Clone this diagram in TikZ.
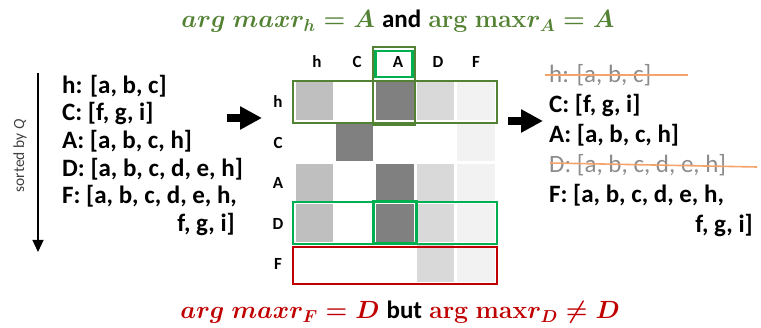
\documentclass[tikz,border=0pt]{standalone}
\usepackage{fontspec}
\newfontfamily\carl{Carlito}
\usetikzlibrary{arrows.meta}
\definecolor{dgreen}{HTML}{548235}
\definecolor{bgreen}{HTML}{00B050}
\definecolor{dred}{HTML}{C00000}
\definecolor{strikec}{HTML}{F4A46A}
\definecolor{txtgray}{HTML}{8C8C8C}
\definecolor{lblgray}{HTML}{404040}
\definecolor{ga}{HTML}{BFBFBF}
\definecolor{gb}{HTML}{808080}
\definecolor{gc}{HTML}{D9D9D9}
\definecolor{gd}{HTML}{F2F2F2}
\newcommand{\hcell}[3]{\fill[#3] ({294+40.4*#1+1.5},{81+40.6*#2+1.5}) rectangle ({294+40.4*(#1+1)-1.5},{81+40.6*(#2+1)-1.5});}
\begin{document}
\begin{tikzpicture}[x=1pt,y=-1pt,
  lst/.style={font={\carl\bfseries\fontsize{25}{30}\selectfont}, inner sep=0pt},
  lstgray/.style={font={\carl\fontsize{25}{30}\selectfont}, text=txtgray, inner sep=0pt},
  hdr/.style={font={\carl\bfseries\fontsize{17}{19}\selectfont}, inner sep=0pt},
  ttl/.style={font={\fontsize{23.5}{28}\selectfont}, inner sep=0pt},
  box/.style={line width=2.2pt},
  blockarrow/.style={line width=8pt, -{Triangle[length=22pt,width=22pt]}},
  strikeline/.style={strikec, line width=1.6pt}]
\useasboundingbox (0,0) rectangle (761,328);

% titles
\node[ttl, anchor=base] (top) at (398,28) {\textcolor{dgreen}{\boldmath$arg\ max r_h = A$} {\carl\bfseries\fontsize{25}{28}\selectfont and} \textcolor{dgreen}{\boldmath$\mathbf{arg\ max} r_A = A$}};
\node[ttl, anchor=base] (bot) at (400,319) {\textcolor{dred}{\boldmath$arg\ max r_F = D$} {\carl\bfseries\fontsize{25}{28}\selectfont but} \textcolor{dred}{\boldmath$\mathbf{arg\ max} r_D \neq D$}};

% sorted by Q arrow
\coordinate (qs) at (38,73);
\coordinate (qe) at (38,252);
\draw[line width=1.2pt, -{Triangle[length=12pt,width=11pt]}] (qs) -- (qe);
\node[rotate=90, font={\carl\fontsize{15.5}{17}\selectfont}, text=lblgray, inner sep=0pt] (qlbl) at (20,156) {sorted by {\itshape Q}};

% left list
\node[lst, anchor=base west] (l1) at (62,93.5) {h: [a, b, c]};
\node[lst, anchor=base west] (l2) at (62,121) {C: [f, g, i]};
\node[lst, anchor=base west] (l3) at (62,149) {A: [a, b, c, h]};
\node[lst, anchor=base west] (l4) at (62,176.5) {D: [a, b, c, d, e, h]};
\node[lst, anchor=base west] (l5) at (62,204) {F: [a, b, c, d, e, h,};
\node[lst, anchor=base east] (l6) at (235,232) {f, g, i]};

% arrows
\coordinate (a1s) at (227,118);
\coordinate (a1e) at (262,118);
\draw[blockarrow] (a1s) -- (a1e);
\coordinate (a2s) at (508,121);
\coordinate (a2e) at (543,121);
\draw[blockarrow] (a2s) -- (a2e);

% heat map cells
\hcell{0}{0}{ga}\hcell{2}{0}{gb}\hcell{3}{0}{gc}\hcell{4}{0}{gd}
\hcell{1}{1}{gb}\hcell{4}{1}{gd}
\hcell{0}{2}{ga}\hcell{2}{2}{gb}\hcell{3}{2}{gc}\hcell{4}{2}{gd}
\hcell{0}{3}{ga}\hcell{2}{3}{gb}\hcell{3}{3}{gc}\hcell{4}{3}{gd}
\hcell{3}{4}{gc}\hcell{4}{4}{gd}

% header labels
\node[hdr, anchor=base] (ch) at (317,68) {h};
\node[hdr, anchor=base] (cC) at (357,68) {C};
\node[hdr, anchor=base] (cA) at (398,68) {A};
\node[hdr, anchor=base] (cD) at (438,68) {D};
\node[hdr, anchor=base] (cF) at (476,68) {F};
\node[hdr] (rh) at (278,102) {h};
\node[hdr] (rC) at (278,142.5) {C};
\node[hdr] (rA) at (278,183) {A};
\node[hdr] (rD) at (278,223.5) {D};
\node[hdr] (rF) at (278,264) {F};

% highlight boxes
\draw[box, dgreen] (293,81) rectangle (497,123);
\draw[box, dgreen] (373,47) rectangle (415,125);
\draw[box, bgreen] (375.5,51) rectangle (412.5,77);
\draw[box, bgreen] (293,202) rectangle (497,244);
\draw[bgreen, line width=3pt] (373,202) rectangle (416,244);
\draw[box, dred] (293,247) rectangle (497,284);

% right list
\node[lstgray, anchor=base west] (r1) at (549,83) {h: [a, b, c]};
\node[lst, anchor=base west] (r2) at (549,113) {C: [f, g, i]};
\node[lst, anchor=base west] (r3) at (549,143) {A: [a, b, c, h]};
\node[lstgray, anchor=base west] (r4) at (549,173) {D: [a, b, c, d, e, h]};
\node[lst, anchor=base west] (r5) at (549,203) {F: [a, b, c, d, e, h,};
\node[lst, anchor=base east] (r6) at (753,233) {f, g, i]};
\coordinate (s1a) at (545,75);
\coordinate (s1b) at (688,75);
\draw[strikeline] (s1a) -- (s1b);
\coordinate (s2a) at (550,163);
\coordinate (s2b) at (757,167);
\draw[strikeline] (s2a) -- (s2b);
\end{tikzpicture}
\end{document}
